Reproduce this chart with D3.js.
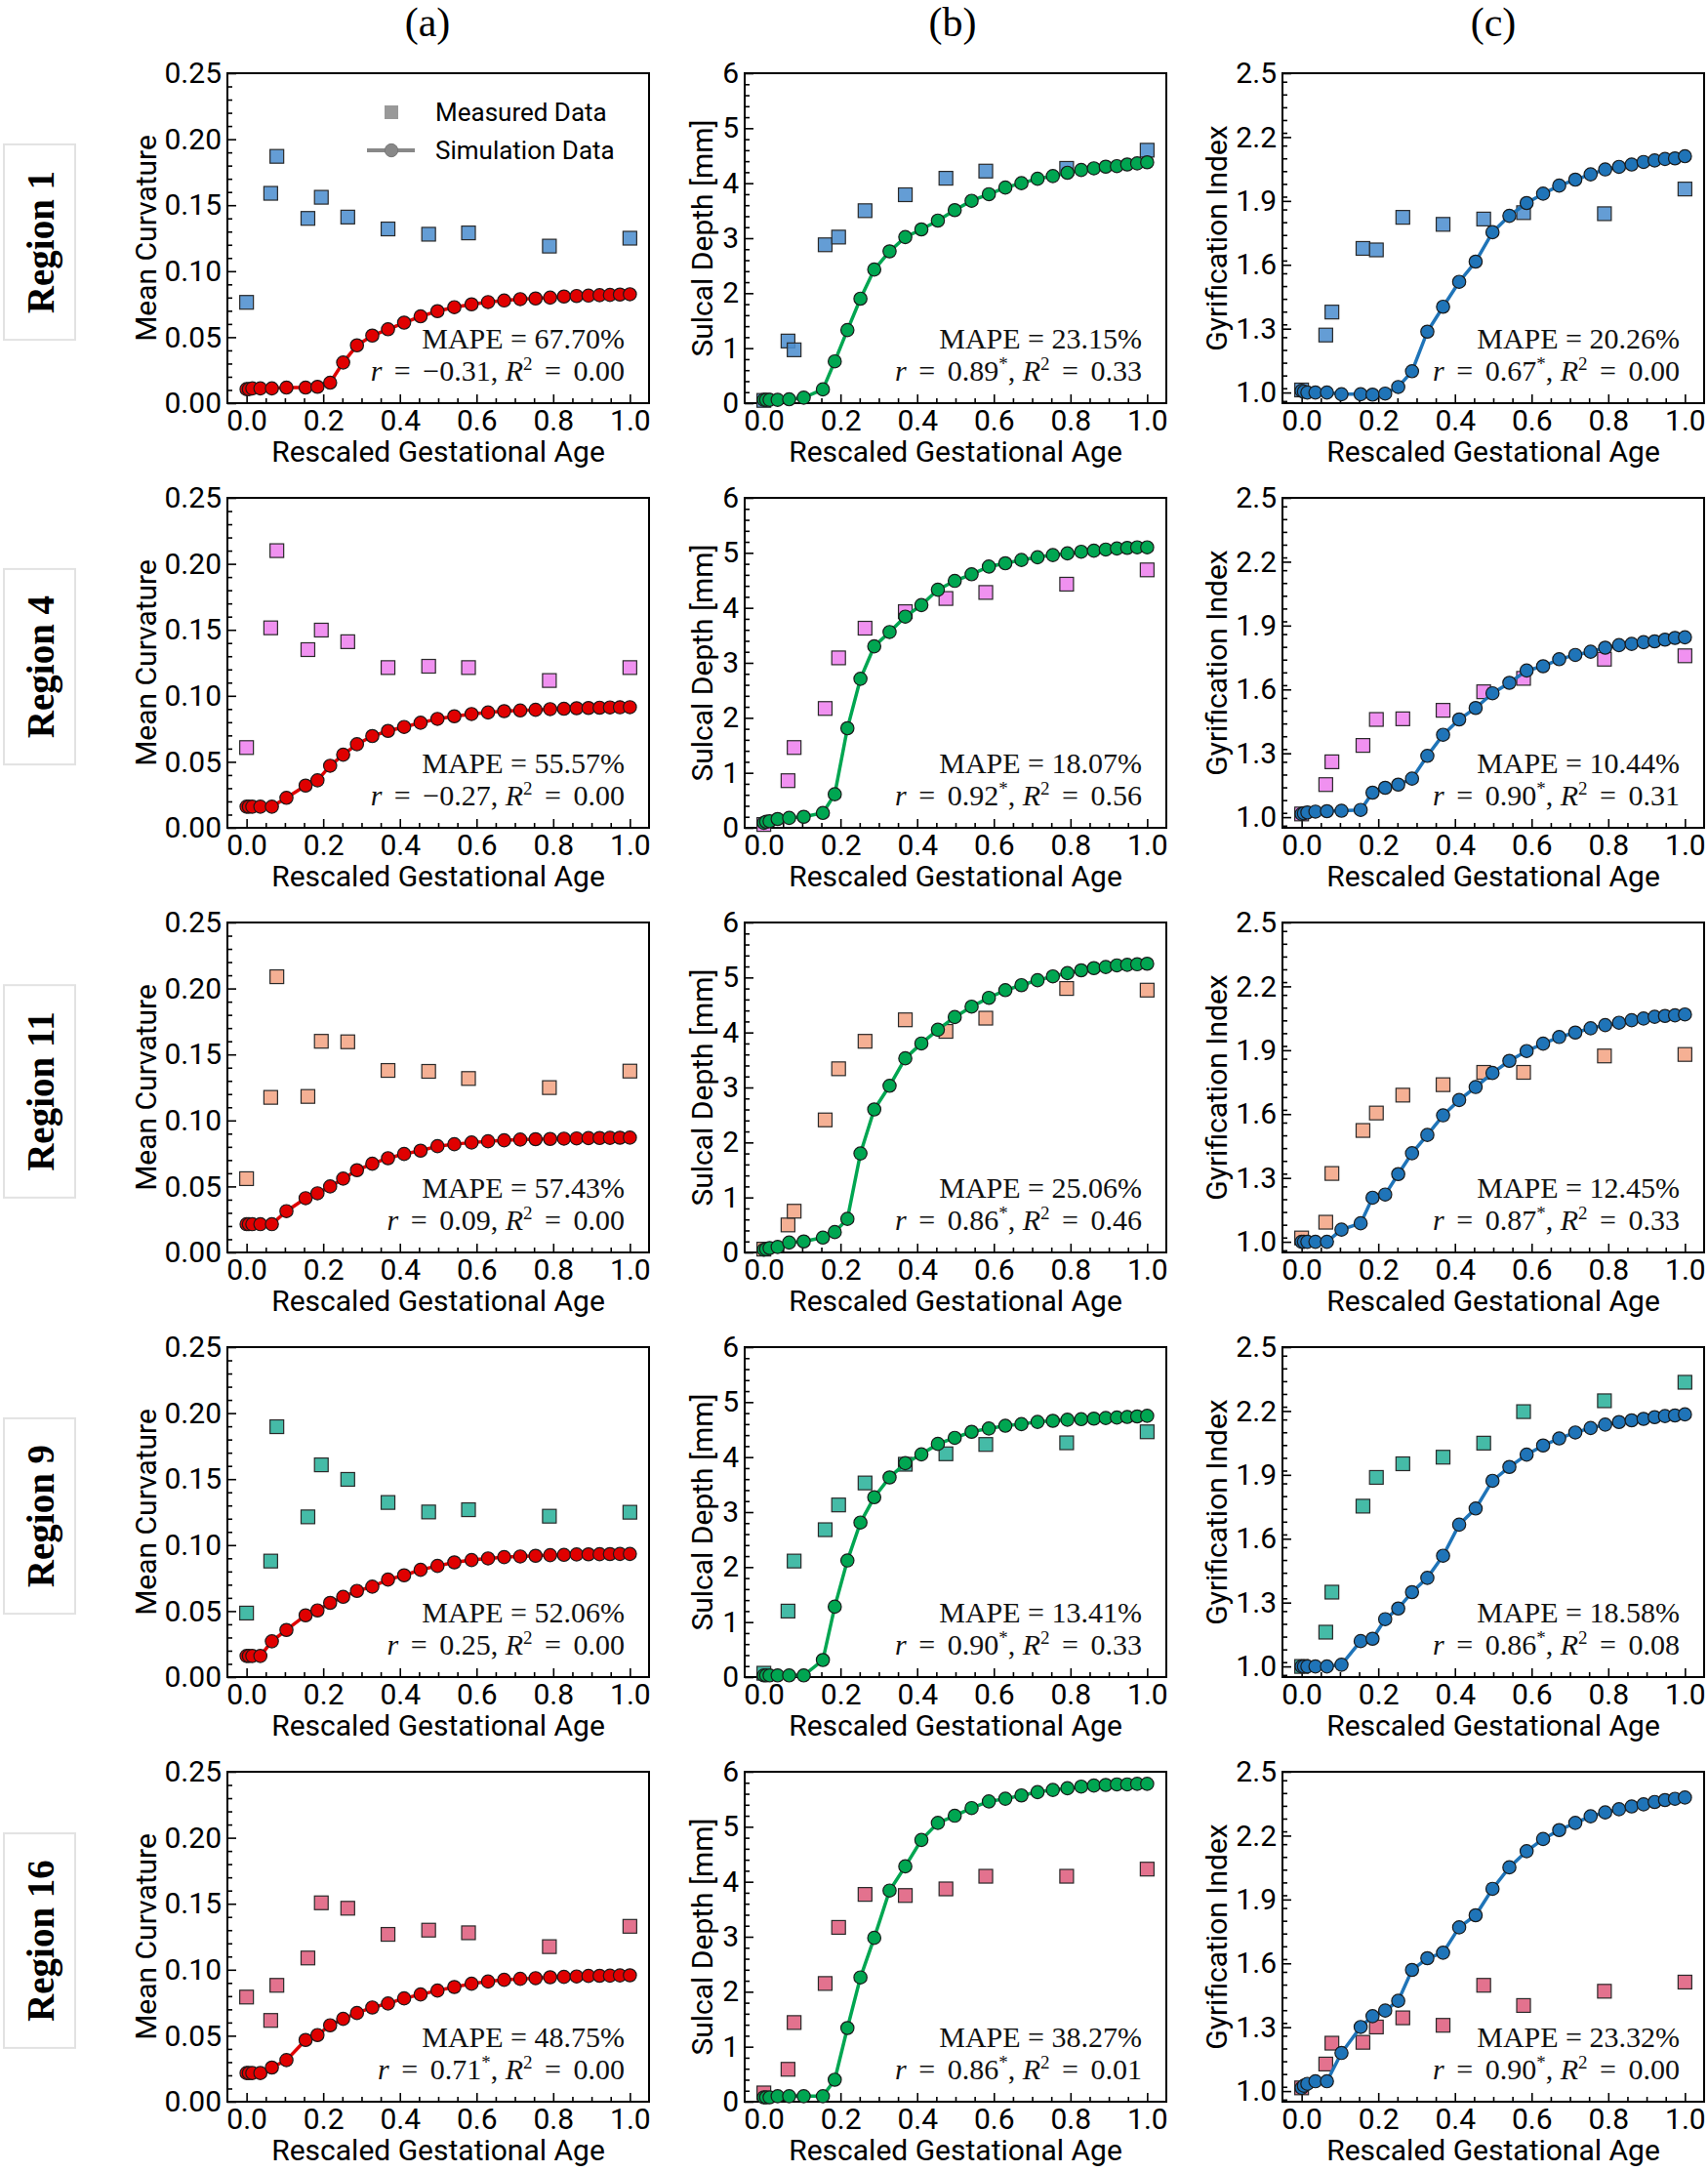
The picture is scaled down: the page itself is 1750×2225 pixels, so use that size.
<!DOCTYPE html>
<html>
<head>
<meta charset="utf-8">
<script src="https://cdn.jsdelivr.net/npm/d3@7"></script>
<style>
  body { margin: 0; background: #fff; }
  .tick text { font-family: Roboto, 'DejaVu Sans', sans-serif; font-size: 30px; fill: #000; }
  .tick line { stroke: #000; stroke-width: 1.6; }
  .axis-title { font-family: Roboto, 'DejaVu Sans', sans-serif; font-size: 30px; fill: #000; }
  .stat { font-family: 'Liberation Serif', 'DejaVu Serif', serif; font-size: 30px; fill: #111; }
  .col-tag { font-family: 'Liberation Serif', serif; font-size: 42px; }
  .region-label { font-family: 'Liberation Serif', serif; font-size: 39px; font-weight: bold; }
  .legend text { font-family: Roboto, 'DejaVu Sans', sans-serif; font-size: 26px; }
</style>
</head>
<body>
<div id="chart"></div>
<script>
// x positions (rescaled gestational age)
const measX = [0, 0.063, 0.079, 0.160, 0.195, 0.264, 0.369, 0.475, 0.579, 0.790, 1.0];
const simX = [0, 0.006, 0.015, 0.036, 0.066, 0.104, 0.154, 0.185, 0.218, 0.252, 0.288, 0.328, 0.369, 0.411, 0.454,
  0.498, 0.542, 0.587, 0.630, 0.672, 0.714, 0.754, 0.792, 0.828, 0.861, 0.892, 0.921, 0.948, 0.974, 1.0];

const regionNames = ['Region 1', 'Region 4', 'Region 11', 'Region 9', 'Region 16'];
const columnTags = ['(a)', '(b)', '(c)'];
const yTitles = ['Mean Curvature', 'Sulcal Depth [mm]', 'Gyrification Index'];
const xTitle = 'Rescaled Gestational Age';
const legendLabels = ['Measured Data', 'Simulation Data'];
const measColors = ['#4f8fcf', '#ee82ee', '#f4a585', '#2bb29b', '#df5f7e'];
const simColors = ['#e00000', '#00a651', '#1f74b8'];

// Region 1
const r1Curv = [0.0764, 0.159, 0.187, 0.140, 0.156, 0.141, 0.132, 0.128, 0.129, 0.119, 0.125];
const r1CurvSim = [0.0106, 0.0106, 0.0112, 0.0112, 0.0112, 0.0118, 0.0118, 0.0124, 0.0155, 0.0308, 0.0438, 0.0512, 0.056, 0.061, 0.0658,
  0.0697, 0.0727, 0.0749, 0.0766, 0.0778, 0.0788, 0.0793, 0.080, 0.0808, 0.0812, 0.0815, 0.0818, 0.082, 0.0823, 0.0825];
const r1Depth = [0.05, 1.13, 0.97, 2.88, 3.02, 3.5, 3.79, 4.09, 4.22, 4.27, 4.6];
const r1DepthSim = [0.06, 0.06, 0.06, 0.06, 0.07, 0.1, 0.25, 0.76, 1.33, 1.9, 2.43, 2.76, 3.02, 3.16, 3.32,
  3.51, 3.68, 3.8, 3.92, 4.0, 4.08, 4.13, 4.19, 4.24, 4.27, 4.3, 4.31, 4.34, 4.36, 4.38];
const r1Gi = [1.012, 1.27, 1.378, 1.677, 1.67, 1.823, 1.79, 1.815, 1.845, 1.84, 1.956];
const r1GiSim = [1.008, 1.004, 1.0, 1.0, 1.0, 0.992, 0.992, 0.99, 0.995, 1.026, 1.1, 1.286, 1.403, 1.52, 1.615,
  1.753, 1.83, 1.89, 1.934, 1.972, 2.0, 2.025, 2.048, 2.06, 2.071, 2.083, 2.09, 2.097, 2.1, 2.11];

// Region 4
const r4Curv = [0.0608, 0.1515, 0.210, 0.135, 0.1498, 0.141, 0.1214, 0.1224, 0.1214, 0.1116, 0.1214];
const r4CurvSim = [0.016, 0.016, 0.016, 0.016, 0.016, 0.0227, 0.032, 0.036, 0.047, 0.0554, 0.0633, 0.0695, 0.0734, 0.0764, 0.0796,
  0.0825, 0.0845, 0.0862, 0.0874, 0.0884, 0.0889, 0.0894, 0.0899, 0.0902, 0.0906, 0.0908, 0.091, 0.0912, 0.0913, 0.0914];
const r4Depth = [0.06, 0.857, 1.46, 2.17, 3.09, 3.63, 3.93, 4.17, 4.28, 4.43, 4.69];
const r4DepthSim = [0.09, 0.11, 0.12, 0.16, 0.18, 0.2, 0.27, 0.61, 1.81, 2.71, 3.3, 3.56, 3.84, 4.05, 4.33,
  4.49, 4.61, 4.75, 4.81, 4.87, 4.92, 4.96, 4.99, 5.02, 5.04, 5.06, 5.08, 5.09, 5.1, 5.1];
const r4Gi = [1.015, 1.153, 1.26, 1.337, 1.459, 1.462, 1.502, 1.589, 1.652, 1.742, 1.758];
const r4GiSim = [1.015, 1.018, 1.022, 1.026, 1.028, 1.03, 1.034, 1.115, 1.138, 1.153, 1.181, 1.288, 1.387, 1.459, 1.513,
  1.582, 1.631, 1.689, 1.709, 1.742, 1.762, 1.777, 1.796, 1.808, 1.814, 1.822, 1.826, 1.834, 1.842, 1.845];

// Region 11
const r11Curv = [0.0559, 0.1175, 0.2089, 0.1182, 0.160, 0.1596, 0.1379, 0.1372, 0.1318, 0.1249, 0.1374];
const r11CurvSim = [0.0214, 0.0214, 0.0214, 0.0214, 0.0214, 0.0313, 0.0411, 0.0448, 0.050, 0.0559, 0.0623, 0.0672, 0.0714, 0.0746, 0.0771,
  0.0805, 0.082, 0.0833, 0.0842, 0.085, 0.0855, 0.0858, 0.086, 0.0862, 0.0864, 0.0866, 0.0867, 0.0868, 0.0869, 0.087];
const r11Depth = [0.06, 0.50, 0.75, 2.41, 3.34, 3.84, 4.23, 4.02, 4.26, 4.8, 4.77];
const r11DepthSim = [0.05, 0.06, 0.08, 0.1, 0.18, 0.2, 0.27, 0.37, 0.61, 1.8, 2.6, 3.03, 3.53, 3.8, 4.05,
  4.28, 4.47, 4.63, 4.77, 4.86, 4.95, 5.02, 5.08, 5.13, 5.17, 5.19, 5.22, 5.23, 5.24, 5.25];
const r11Gi = [1.018, 1.092, 1.321, 1.523, 1.605, 1.689, 1.738, 1.796, 1.796, 1.873, 1.88];
const r11GiSim = [1.0, 1.0, 1.0, 1.0, 1.0, 1.057, 1.087, 1.207, 1.222, 1.318, 1.416, 1.502, 1.594, 1.666, 1.727,
  1.793, 1.85, 1.896, 1.931, 1.962, 1.983, 2.003, 2.018, 2.029, 2.041, 2.049, 2.057, 2.061, 2.064, 2.068];

// Region 9
const r9Curv = [0.0485, 0.0879, 0.1897, 0.1214, 0.1608, 0.1498, 0.1323, 0.1251, 0.1268, 0.1219, 0.1249];
const r9CurvSim = [0.016, 0.016, 0.016, 0.016, 0.0271, 0.0357, 0.0468, 0.0505, 0.0562, 0.0608, 0.0653, 0.0685, 0.0739, 0.0771, 0.0813,
  0.0842, 0.0869, 0.0887, 0.0899, 0.0909, 0.0914, 0.0919, 0.0924, 0.0926, 0.0929, 0.093, 0.0931, 0.0932, 0.0933, 0.0933];
const r9Depth = [0.07, 1.2, 2.11, 2.68, 3.13, 3.53, 3.87, 4.06, 4.23, 4.26, 4.46];
const r9DepthSim = [0.03, 0.03, 0.03, 0.03, 0.03, 0.03, 0.31, 1.28, 2.12, 2.81, 3.27, 3.63, 3.89, 4.05, 4.24,
  4.35, 4.46, 4.52, 4.57, 4.6, 4.64, 4.66, 4.68, 4.69, 4.7, 4.71, 4.72, 4.73, 4.74, 4.75];
const r9Gi = [1.0, 1.161, 1.349, 1.753, 1.888, 1.952, 1.983, 2.049, 2.197, 2.248, 2.335];
const r9GiSim = [1.0, 1.0, 1.0, 1.0, 1.0, 1.008, 1.119, 1.13, 1.222, 1.272, 1.349, 1.416, 1.52, 1.666, 1.742,
  1.872, 1.937, 1.995, 2.038, 2.071, 2.099, 2.12, 2.136, 2.148, 2.156, 2.163, 2.171, 2.176, 2.179, 2.184];

// Region 16
const r16Curv = [0.0793, 0.0616, 0.0882, 0.1089, 0.1507, 0.1466, 0.1268, 0.130, 0.128, 0.1175, 0.1329];
const r16CurvSim = [0.0217, 0.0217, 0.0217, 0.0217, 0.0259, 0.0315, 0.0468, 0.0505, 0.0579, 0.0628, 0.0672, 0.0714, 0.0744, 0.0783, 0.0813,
  0.0842, 0.0869, 0.0894, 0.0911, 0.0924, 0.0931, 0.0936, 0.0943, 0.0946, 0.0949, 0.0953, 0.0954, 0.0955, 0.0957, 0.0958];
const r16Depth = [0.16, 0.59, 1.44, 2.15, 3.17, 3.77, 3.75, 3.87, 4.1, 4.1, 4.23];
const r16DepthSim = [0.08, 0.08, 0.08, 0.1, 0.1, 0.1, 0.1, 0.4, 1.34, 2.26, 2.98, 3.84, 4.28, 4.76, 5.07,
  5.2, 5.34, 5.46, 5.51, 5.57, 5.63, 5.67, 5.7, 5.73, 5.75, 5.76, 5.77, 5.77, 5.78, 5.78];
const r16Gi = [1.015, 1.127, 1.225, 1.229, 1.301, 1.344, 1.309, 1.497, 1.402, 1.469, 1.512];
const r16GiSim = [1.015, 1.025, 1.034, 1.046, 1.046, 1.179, 1.301, 1.352, 1.378, 1.424, 1.569, 1.624, 1.65, 1.769, 1.826,
  1.95, 2.051, 2.127, 2.184, 2.226, 2.26, 2.291, 2.309, 2.324, 2.337, 2.347, 2.358, 2.367, 2.373, 2.379];

// statistics printed in each panel (rows = regions)
const curvMape = ['67.70', '55.57', '57.43', '52.06', '48.75'];
const curvR = ['\u22120.31', '\u22120.27', '0.09', '0.25', '0.71*'];
const curvR2 = ['0.00', '0.00', '0.00', '0.00', '0.00'];
const depthMape = ['23.15', '18.07', '25.06', '13.41', '38.27'];
const depthR = ['0.89*', '0.92*', '0.86*', '0.90*', '0.86*'];
const depthR2 = ['0.33', '0.56', '0.46', '0.33', '0.01'];
const giMape = ['20.26', '10.44', '12.45', '18.58', '23.32'];
const giR = ['0.67*', '0.90*', '0.87*', '0.86*', '0.90*'];
const giR2 = ['0.00', '0.31', '0.33', '0.08', '0.00'];

// axis settings per column
const yTickValues = [
  [0, 0.05, 0.10, 0.15, 0.20, 0.25],
  [0, 1, 2, 3, 4, 5, 6],
  [1.0, 1.3, 1.6, 1.9, 2.2, 2.5]
];
const xTickValues = [0, 0.2, 0.4, 0.6, 0.8, 1.0];

// table built from the arrays above
const measRows = [
  [r1Curv, r1Depth, r1Gi], [r4Curv, r4Depth, r4Gi], [r11Curv, r11Depth, r11Gi],
  [r9Curv, r9Depth, r9Gi], [r16Curv, r16Depth, r16Gi]
];
const simRows = [
  [r1CurvSim, r1DepthSim, r1GiSim], [r4CurvSim, r4DepthSim, r4GiSim], [r11CurvSim, r11DepthSim, r11GiSim],
  [r9CurvSim, r9DepthSim, r9GiSim], [r16CurvSim, r16DepthSim, r16GiSim]
];
const statCols = [[curvMape, curvR, curvR2], [depthMape, depthR, depthR2], [giMape, giR, giR2]];

// layout
const W = 1750, H = 2225;
const plotLeft = [233, 763, 1314];
const plotW = 432, plotH = 338;
const plotTop0 = 75, rowStep = 435;
const yTitleGap = [84, 44, 68];
const yDomains = [[0, 0.25], [0, 6], [0.95, 2.5]];
const yFormats = [d3.format('.2f'), d3.format('d'), d3.format('.1f')];
const yMinorStep = [0.01, 0.2, 0.06];

const svg = d3.select('#chart').append('svg')
  .attr('width', W)
  .attr('height', H)
  .attr('viewBox', `0 0 ${W} ${H}`);

svg.append('rect').attr('width', W).attr('height', H).attr('fill', '#fff');

// column tags
const tagX = [438, 976, 1530];
columnTags.forEach((t, c) => {
  svg.append('text')
    .attr('class', 'col-tag')
    .attr('x', tagX[c])
    .attr('y', 37)
    .attr('text-anchor', 'middle')
    .text(t);
});

const x = d3.scaleLinear().domain([-0.05, 1.05]).range([0, plotW]);
const xMinor = d3.range(-0.0, 1.0001, 0.05).filter(v => Math.abs(v * 5 - Math.round(v * 5)) > 1e-6);

function minorTicks(domain, step, majors) {
  const out = [];
  const start = Math.ceil(domain[0] / step - 1e-9) * step;
  for (let v = start; v <= domain[1] + 1e-9; v += step) {
    if (!majors.some(m => Math.abs(m - v) < step / 4)) out.push(+v.toFixed(4));
  }
  return out;
}

// a bit more room round "=" on the second line, like TeX math
const EQ = '\u2004\u200A=\u2004\u200A';

function statText(g, px, py, mape, rv, r2) {
  g.append('text')
    .attr('class', 'stat')
    .attr('x', px).attr('y', py)
    .attr('text-anchor', 'end')
    .text(`MAPE = ${mape}%`);

  const t = g.append('text')
    .attr('class', 'stat')
    .attr('x', px).attr('y', py + 33)
    .attr('text-anchor', 'end');
  const star = rv.endsWith('*');
  t.append('tspan').style('font-style', 'italic').text('r');
  t.append('tspan').text(`${EQ}${rv.replace('*', '')}`);
  if (star) {
    t.append('tspan').attr('dy', -11).style('font-size', '19px').text('*');
    t.append('tspan').attr('dy', 11).text(', ');
  } else {
    t.append('tspan').text(', ');
  }
  t.append('tspan').style('font-style', 'italic').text('R');
  t.append('tspan').attr('dy', -11).style('font-size', '19px').text('2');
  t.append('tspan').attr('dy', 11).text(`${EQ}${r2}`);
}

regionNames.forEach((name, r) => {
  const top = plotTop0 + r * rowStep;

  // region label box
  const lab = svg.append('g').attr('transform', `translate(41,${top + plotH / 2 + 4})`);
  const boxRect = lab.append('rect');
  const labText = lab.append('text')
    .attr('class', 'region-label')
    .attr('transform', 'rotate(-90)')
    .attr('text-anchor', 'middle')
    .attr('dy', '0.35em')
    .text(name);
  const len = labText.node().getComputedTextLength();
  boxRect
    .attr('x', -37).attr('y', -len / 2 - 27)
    .attr('width', 73).attr('height', len + 54)
    .attr('fill', '#fff')
    .attr('stroke', '#e2e2e2')
    .attr('stroke-width', 2);

  [0, 1, 2].forEach(c => {
    const g = svg.append('g').attr('transform', `translate(${plotLeft[c]},${top})`);
    const y = d3.scaleLinear().domain(yDomains[c]).range([plotH, 0]);

    // minor ticks
    g.append('g')
      .call(d3.axisLeft(y).tickValues(minorTicks(yDomains[c], yMinorStep[c], yTickValues[c]))
        .tickSizeInner(-5).tickSizeOuter(0).tickFormat(''))
      .call(a => a.select('.domain').remove());
    g.append('g')
      .attr('transform', `translate(0,${plotH})`)
      .call(d3.axisBottom(x).tickValues(xMinor).tickSizeInner(-5).tickSizeOuter(0).tickFormat(''))
      .call(a => a.select('.domain').remove());

    // major ticks
    g.append('g')
      .call(d3.axisLeft(y).tickValues(yTickValues[c]).tickFormat(yFormats[c])
        .tickSizeInner(-9).tickSizeOuter(0).tickPadding(6))
      .call(a => a.select('.domain').remove());
    g.append('g')
      .attr('transform', `translate(0,${plotH})`)
      .call(d3.axisBottom(x).tickValues(xTickValues).tickFormat(d3.format('.1f'))
        .tickSizeInner(-9).tickSizeOuter(0).tickPadding(7))
      .call(a => a.select('.domain').remove());

    // frame
    g.append('rect')
      .attr('width', plotW).attr('height', plotH)
      .attr('fill', 'none').attr('stroke', '#000').attr('stroke-width', 2);

    // titles
    g.append('text')
      .attr('class', 'axis-title')
      .attr('x', plotW / 2).attr('y', plotH + 60)
      .attr('text-anchor', 'middle')
      .text(xTitle);
    g.append('text')
      .attr('class', 'axis-title')
      .attr('transform', `translate(${-yTitleGap[c]},${plotH / 2}) rotate(-90)`)
      .attr('text-anchor', 'middle')
      .attr('dy', '0.35em')
      .text(yTitles[c]);

    // measured squares
    const meas = measRows[r][c];
    const sq = 14;
    g.selectAll('rect.meas')
      .data(measX.map((v, i) => [v, meas[i]]))
      .join('rect')
      .attr('class', 'meas')
      .attr('x', d => x(d[0]) - sq / 2)
      .attr('y', d => y(d[1]) - sq / 2)
      .attr('width', sq).attr('height', sq)
      .attr('fill', measColors[r])
      .attr('fill-opacity', 0.88)
      .attr('stroke', '#2a2a2a')
      .attr('stroke-width', 1.2);

    // simulation line + circles
    const sim = simRows[r][c];
    const pts = simX.map((v, i) => [v, sim[i]]);
    g.append('path')
      .datum(pts)
      .attr('fill', 'none')
      .attr('stroke', simColors[c])
      .attr('stroke-width', 3.5)
      .attr('d', d3.line().x(d => x(d[0])).y(d => y(d[1])));
    g.selectAll('circle.sim')
      .data(pts)
      .join('circle')
      .attr('class', 'sim')
      .attr('cx', d => x(d[0]))
      .attr('cy', d => y(d[1]))
      .attr('r', 6.7)
      .attr('fill', simColors[c])
      .attr('stroke', '#1a1a1a')
      .attr('stroke-width', 1.2);

    // statistics
    const s = statCols[c];
    statText(g, plotW - 25, 282, s[0][r], s[1][r], s[2][r]);

    // legend (first panel only)
    if (r === 0 && c === 0) {
      const lg = g.append('g').attr('class', 'legend');
      lg.append('rect')
        .attr('x', 168 - 7).attr('y', 40 - 7).attr('width', 14).attr('height', 14)
        .attr('fill', '#999');
      lg.append('line')
        .attr('x1', 143).attr('x2', 192).attr('y1', 79).attr('y2', 79)
        .attr('stroke', '#888').attr('stroke-width', 4);
      lg.append('circle')
        .attr('cx', 168).attr('cy', 79).attr('r', 6.7)
        .attr('fill', '#888').attr('stroke', '#777');
      lg.append('text').attr('x', 213).attr('y', 40).attr('dy', '0.35em').text(legendLabels[0]);
      lg.append('text').attr('x', 213).attr('y', 79).attr('dy', '0.35em').text(legendLabels[1]);
    }
  });
});
</script>
</body>
</html>
